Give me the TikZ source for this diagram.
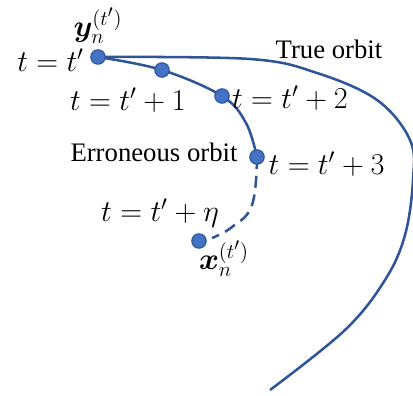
\documentclass[tikz,border=0pt]{standalone}
\usepackage[no-math]{fontspec}
\usepackage{bm}
\setmainfont{Liberation Serif}
\usetikzlibrary{positioning}
\definecolor{orbitline}{HTML}{2F5597}
\definecolor{dotfill}{HTML}{4472C4}
\tikzset{
  orbit/.style={draw=orbitline, line width=1.8pt},
  dot/.style={circle, fill=dotfill, draw=orbitline, line width=0.8pt,
    minimum size=0.36cm, inner sep=0pt},
  lbl/.style={font=\fontsize{19}{22}\selectfont, inner sep=1pt},
  mlbl/.style={font=\fontsize{17.28}{20}\selectfont, scale=1.245, inner sep=1pt}
}
\begin{document}
\begin{tikzpicture}[x=0.025cm, y=0.025cm]
    \useasboundingbox (0,0) rectangle (413,395);
    \coordinate (p0) at (98,338);
    \coordinate (p1) at (162,325);
    \coordinate (p2) at (222,299);
    \coordinate (p3) at (257,238);
    \coordinate (xn) at (199,154);
    % true orbit
    \draw[orbit] plot[smooth, tension=0.6] coordinates {(p0) (250,336) (317,322)
      (377,295) (410,255) (413,215) (405,160) (385,115) (345,65) (270,5)};
    % erroneous orbit
    \draw[orbit] plot[smooth, tension=0.6] coordinates {(p0) (p1) (p2) (246,272) (p3)};
    \draw[orbit, dash pattern=on 0.3cm off 0.17cm] plot[smooth, tension=0.7]
      coordinates {(p3) (252,190) (232,168) (212,157)};
    \foreach \p in {p0,p1,p2,p3,xn}
      \node[dot] at (\p) {};
    % labels
    \node[mlbl, left=0.3cm of p0, yshift=-2pt] (tp0) {$t=t'$};
    \node[mlbl] (yn) at (98,369) {$\bm{y}_n^{(t')}$};
    \node[mlbl] (tp1) at (128,295) {$t=t'+1$};
    \node[mlbl, right=0.2cm of p2, yshift=-1pt] (tp2) {$t=t'+2$};
    \node[mlbl, right=0.24cm of p3, yshift=-4pt] (tp3) {$t=t'+3$};
    \node[mlbl] (teta) at (160,182) {$t=t'+\eta$};
    \node[mlbl] (xlbl) at (224,136) {$\bm{x}_n^{(t')}$};
    \node[lbl] (err) at (154,243) {Erroneous orbit};
    \node[lbl] (true) at (329,346) {True orbit};
  \end{tikzpicture}
\end{document}
